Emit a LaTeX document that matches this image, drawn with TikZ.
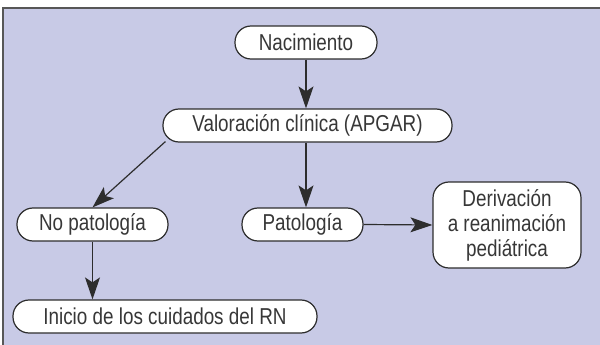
\documentclass[tikz,border=0pt]{standalone}
\usepackage{fontspec}
\setmainfont{Liberation Sans}[FakeStretch=0.82]
\usetikzlibrary{arrows.meta}
\definecolor{fondo}{RGB}{200,202,230}
\definecolor{borde}{RGB}{45,45,45}
\definecolor{texto}{RGB}{55,55,55}

\begin{document}
\begin{tikzpicture}[x=1pt, y=-1pt,
  caja/.style={draw=borde, fill=white, line width=1.2pt, rounded corners=16pt,
    minimum height=33pt, inner sep=0pt, text=texto, font=\fontsize{23}{25}\selectfont},
  flecha/.style={draw=borde, line width=1.2pt, -{Stealth[length=22pt, width=15pt, inset=5pt]}}]
  \useasboundingbox (0,0) rectangle (600,345);

  % fondo y marco
  \fill[fondo] (2.5,8) rectangle (600,345);
  \draw[borde!80, line width=2pt] (2.5,345) -- (2.5,8) -- (600,8);

  \node[caja, minimum width=142pt] (nac) at (306,42.5) {Nacimiento};
  \node[caja, minimum width=289pt] (valo) at (307.5,125.5) {Valoración clínica (APGAR)};
  \node[caja, minimum width=151pt] (nopat) at (92.5,224.5) {No patología};
  \node[caja, minimum width=121pt] (pat) at (302.5,224.5) {Patología};
  \node[caja, minimum width=148pt, minimum height=86pt, align=center] (deriv) at (507,225)
    {Derivación\\a reanimación\\pediátrica};
  \node[caja, minimum width=304pt] (ini) at (165,316.5) {Inicio de los cuidados del RN};

  \coordinate (sal) at ([shift={(3,-1)}]valo.south west);

  \draw[flecha] (nac.south) -- (nac.south |- valo.north);
  \draw[flecha] (sal) -- (nopat.north);
  \draw[flecha] (nac.south |- valo.south) -- (nac.south |- pat.north);
  \draw[flecha] (pat.east) -- (deriv.west);
  \draw[flecha] (nopat.south) -- (nopat.south |- ini.north);
\end{tikzpicture}
\end{document}
